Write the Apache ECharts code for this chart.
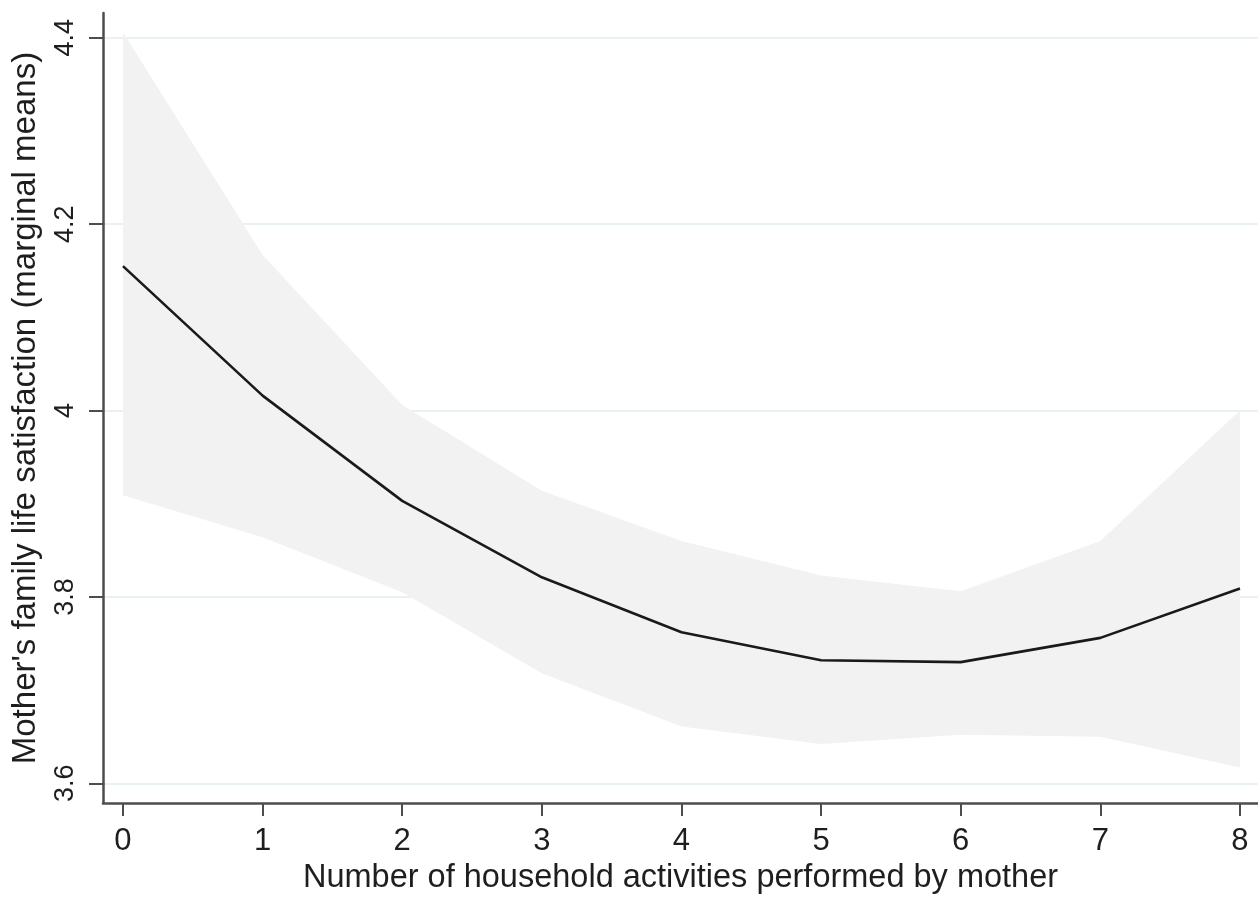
<!DOCTYPE html>
<html>
<head>
<meta charset="utf-8">
<script src="https://cdn.jsdelivr.net/npm/echarts@6/dist/echarts.min.js"></script>
<style>
html,body{margin:0;padding:0;background:#fff;}
#chart{width:1258px;height:900px;}
</style>
</head>
<body>
<div id="chart"></div>
<script>
// Data
var activities = [0, 1, 2, 3, 4, 5, 6, 7, 8];
var meanValues = [4.155, 4.016, 3.903, 3.821, 3.762, 3.732, 3.730, 3.756, 3.809];
var upperCI   = [4.406, 4.167, 4.006, 3.914, 3.860, 3.823, 3.806, 3.860, 4.000];
var lowerCI   = [3.909, 3.864, 3.805, 3.718, 3.661, 3.642, 3.652, 3.650, 3.617];
var xTicks = [0, 1, 2, 3, 4, 5, 6, 7, 8];
var yTicks = [3.6, 3.8, 4.0, 4.2, 4.4];

var xTitle = 'Number of household activities performed by mother';
var yTitle = "Mother's family life satisfaction (marginal means)";

var FONT = "'Liberation Sans', Arial, sans-serif";
var AXIS_COLOR = '#4d4d4d';
var TEXT_COLOR = '#1e1e1e';

var bandData = activities.map(function (x, i) { return [x, lowerCI[i], upperCI[i]]; });
var meanData = activities.map(function (x, i) { return [x, meanValues[i]]; });

var chart = echarts.init(document.getElementById('chart'), null, {renderer: 'canvas'});
chart.setOption({
  animation: false,
  backgroundColor: '#ffffff',
  grid: {left: 103, right: 0, top: 13, bottom: 91, containLabel: false},
  xAxis: {
    type: 'value',
    min: -0.143,
    max: 8.129,
    name: xTitle,
    nameLocation: 'middle',
    nameGap: 55,
    nameTextStyle: {fontFamily: FONT, fontSize: 32.5, color: TEXT_COLOR},
    axisLine: {show: true, onZero: false, lineStyle: {color: AXIS_COLOR, width: 2.5}},
    axisTick: {show: true, length: 13, customValues: xTicks, lineStyle: {color: AXIS_COLOR, width: 2}},
    axisLabel: {customValues: xTicks, margin: 23, fontFamily: FONT, fontSize: 31, color: TEXT_COLOR},
    splitLine: {show: false}
  },
  yAxis: {
    type: 'value',
    min: 3.5787,
    max: 4.4266,
    name: yTitle,
    nameLocation: 'middle',
    nameGap: 61,
    nameTextStyle: {fontFamily: FONT, fontSize: 33, color: TEXT_COLOR},
    axisLine: {show: true, onZero: false, lineStyle: {color: AXIS_COLOR, width: 2.5}},
    axisTick: {show: true, length: 14, customValues: yTicks, lineStyle: {color: AXIS_COLOR, width: 2}},
    axisLabel: {
      customValues: yTicks, rotate: 90, margin: 24,
      fontFamily: FONT, fontSize: 27, color: TEXT_COLOR,
      formatter: function (v) { return String(Math.round(v * 10) / 10); }
    },
    splitLine: {show: true, lineStyle: {color: '#e9f1f2', width: 2}}
  },
  series: [
    {
      name: 'ci', type: 'custom', data: bandData, silent: true, z: 1,
      encode: {x: 0, y: [1, 2]},
      renderItem: function (params, api) {
        if (params.dataIndex !== 0) { return null; }
        var pts = [];
        var n = bandData.length, i;
        for (i = 0; i < n; i++) { pts.push(api.coord([bandData[i][0], bandData[i][2]])); }
        for (i = n - 1; i >= 0; i--) { pts.push(api.coord([bandData[i][0], bandData[i][1]])); }
        return {
          type: 'polygon',
          shape: {points: pts},
          style: {fill: '#f2f2f2', stroke: null}
        };
      }
    },
    {
      name: 'mean', type: 'line', data: meanData,
      symbol: 'none', lineStyle: {color: '#1a1a1a', width: 2.6}, z: 3
    }
  ]
});
</script>
</body>
</html>
